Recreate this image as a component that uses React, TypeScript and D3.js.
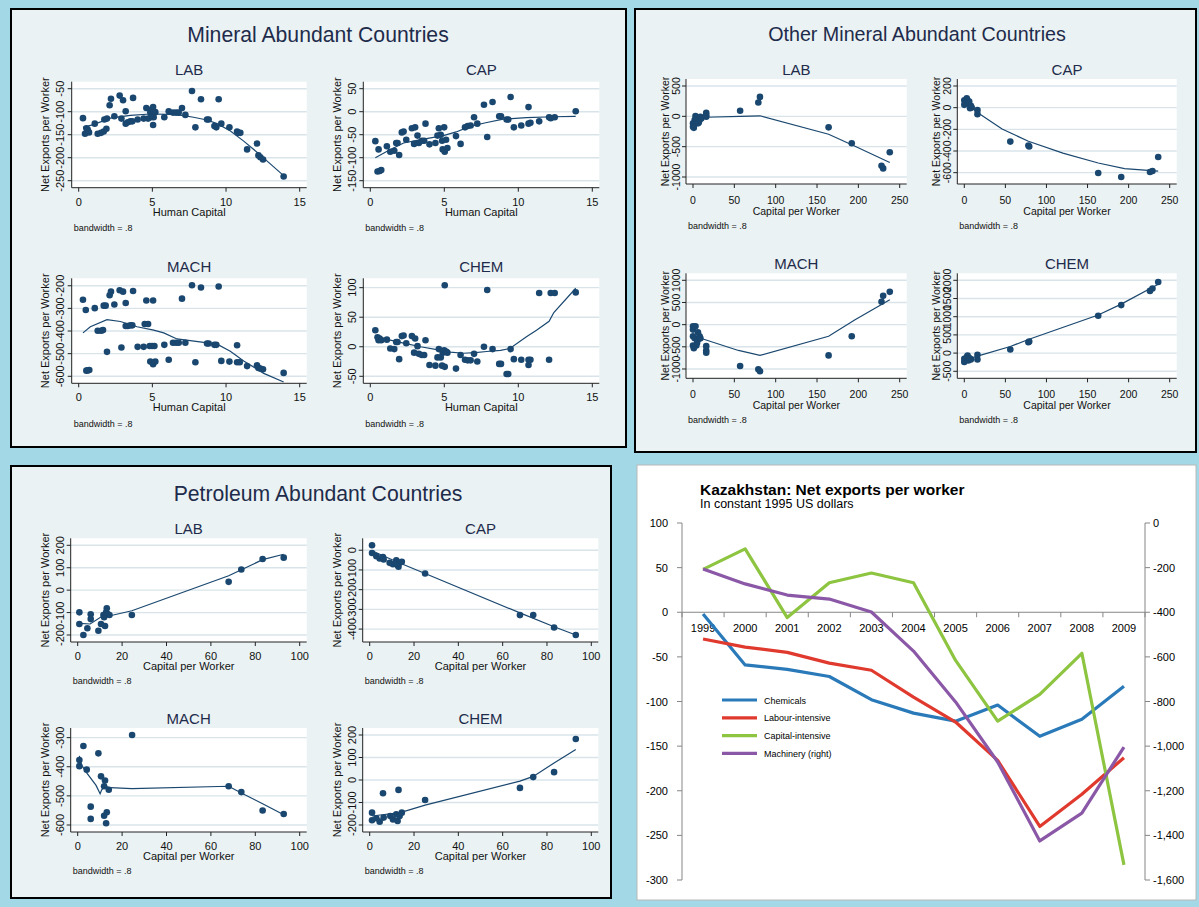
import React from 'react';
import * as d3 from 'd3';

type Pt = [number, number];

// ---------- Panel 1: Mineral Abundant Countries (x = Human Capital) ----------
const hcTicks = [0, 5, 10, 15];
const minLabTicks = [-250, -200, -150, -100, -50];
const minCapTicks = [-150, -100, -50, 0, 50];
const minMachTicks = [-600, -500, -400, -300, -200];
const minChemTicks = [-50, 0, 50, 100];

const minLab: Pt[] = [[0.29,-114],[0.43,-148],[0.52,-136],[0.61,-139],[0.70,-145],[1.09,-126],[1.29,-148],[1.52,-146],[1.70,-143],[1.74,-117],[1.88,-137],[1.92,-115],[2.10,-86],[2.19,-72],[2.42,-110],[2.78,-65],[2.90,-115],[3.01,-75],[3.19,-99],[3.19,-126],[3.33,-123],[3.51,-121],[3.64,-121],[3.69,-70],[4.00,-117],[4.41,-115],[4.59,-92],[4.71,-115],[4.86,-101],[4.98,-94],[5.05,-90],[4.91,-112],[5.09,-112],[5.05,-129],[5.20,-101],[5.81,-112],[6.11,-99],[6.40,-102],[6.61,-102],[6.79,-102],[7.01,-92],[7.24,-107],[7.69,-55],[7.92,-134],[8.30,-73],[8.71,-117],[8.82,-117],[9.21,-131],[9.34,-134],[9.50,-73],[9.68,-126],[10.23,-134],[10.75,-143],[10.81,-146],[10.97,-146],[11.43,-182],[12.10,-169],[12.20,-195],[12.33,-199],[12.51,-204],[13.91,-241]];
const minLabFit: Pt[] = [[0.29,-134],[1,-128],[2.15,-114],[3.5,-108],[4.86,-105],[6.2,-106],[7.0,-108],[7.8,-112],[8.7,-118],[9.4,-126],[10.3,-142],[11.2,-164],[12.1,-188],[12.56,-201],[13.91,-239]];

const minCap: Pt[] = [[0.34,-64],[0.49,-130],[0.56,-82],[0.63,-129],[0.74,-127],[1.12,-75],[1.35,-87],[1.62,-85],[1.75,-68],[1.84,-68],[1.95,-94],[2.13,-45],[2.25,-43],[2.43,-61],[2.81,-36],[2.96,-70],[3.03,-34],[3.19,-52],[3.28,-68],[3.48,-63],[3.64,-63],[3.73,-26],[4.00,-71],[4.40,-68],[4.54,-52],[4.63,-36],[4.76,-50],[4.85,-63],[4.89,-82],[4.99,-34],[5.03,-87],[5.12,-61],[5.21,-79],[5.79,-53],[6.10,-70],[6.40,-34],[6.58,-31],[6.78,-30],[7.01,-12],[7.23,-26],[7.68,15],[7.90,-55],[8.26,21],[8.71,-10],[8.83,-10],[9.21,-17],[9.32,-17],[9.48,32],[9.70,-34],[10.20,-30],[10.69,10],[10.69,-26],[10.82,-24],[11.41,-21],[12.08,-12],[12.19,-14],[12.46,-12],[13.88,1]];
const minCapFit: Pt[] = [[0.34,-100],[1.2,-85],[2.25,-68],[3.5,-60],[4.94,-52],[5.8,-44],[6.74,-32],[7.8,-24],[8.98,-16],[10.55,-13],[12.35,-11],[13.88,-10]];

const minMach: Pt[] = [[0.29,-262],[0.48,-307],[0.52,-575],[0.61,-574],[0.72,-572],[1.09,-299],[1.29,-399],[1.52,-399],[1.65,-396],[1.70,-288],[1.83,-288],[1.92,-492],[2.10,-242],[2.19,-226],[2.42,-283],[2.78,-220],[2.90,-473],[3.01,-226],[3.19,-276],[3.19,-378],[3.33,-378],[3.51,-375],[3.64,-375],[3.69,-223],[4.00,-470],[4.41,-470],[4.48,-369],[4.59,-265],[4.71,-369],[4.82,-466],[4.86,-535],[4.98,-466],[5.05,-265],[5.05,-547],[5.14,-466],[5.20,-535],[5.81,-461],[6.11,-527],[6.40,-452],[6.61,-452],[6.79,-452],[7.01,-257],[7.24,-452],[7.69,-198],[7.92,-538],[8.30,-208],[8.71,-455],[8.82,-455],[9.21,-461],[9.34,-461],[9.50,-203],[9.68,-532],[10.23,-535],[10.75,-463],[10.75,-538],[10.93,-538],[11.43,-555],[12.10,-551],[12.20,-563],[12.33,-566],[12.51,-569],[13.91,-585]];
const minMachFit: Pt[] = [[0.29,-408],[0.79,-381],[1.92,-350],[2.83,-358],[3.96,-381],[5.09,-396],[5.77,-408],[6.67,-435],[8.48,-450],[9.39,-458],[10.29,-489],[11.2,-532],[12.56,-587],[13.91,-625]];

const minChem: Pt[] = [[0.34,28],[0.49,16],[0.56,11],[0.63,14],[0.74,11],[1.12,12],[1.35,-3],[1.62,-4],[1.75,8],[1.84,8],[1.95,-21],[2.13,18],[2.25,19],[2.43,6],[2.81,18],[2.96,-10],[3.03,14],[3.19,1],[3.28,-12],[3.48,-14],[3.64,-14],[3.73,11],[4.00,-31],[4.40,-32],[4.54,-18],[4.63,-4],[4.76,-18],[4.85,-32],[4.89,-10],[4.99,-6],[5.03,-34],[5.03,104],[5.12,-8],[5.21,-10],[5.79,-37],[6.10,-14],[6.40,-22],[6.58,-23],[6.78,-23],[7.01,-12],[7.23,-25],[7.68,0],[7.90,96],[8.26,-4],[8.71,-29],[8.83,-29],[9.21,-46],[9.32,-46],[9.48,-4],[9.70,-21],[10.20,-22],[10.69,-22],[10.69,-31],[10.82,-22],[11.41,91],[12.08,-22],[12.19,91],[12.46,91],[13.88,92]];
const minChemFit: Pt[] = [[0.34,19],[1.2,12],[2.25,6],[3.4,0],[4.49,-5],[5.4,-9],[6.29,-11],[7.1,-10],[7.86,-8],[8.8,-6],[9.43,-3],[10.55,17],[11.23,28],[12.08,43],[12.4,58],[13.88,99]];

// ---------- Panel 2: Other Mineral Abundant Countries (x = Capital per Worker) ----------
const kTicks = [0, 50, 100, 150, 200, 250];
const omLabTicks = [-1000, -500, 0, 500];
const omCapTicks = [-600, -400, -200, 0, 200];
const omMachTicks = [-1000, -500, 0, 500, 1000];
const omChemTicks = [-500, 0, 500, 1000, 1500, 2000];

const omLab: Pt[] = [[0,-116],[0,-171],[1,-144],[1,-190],[2,-62],[3,4],[3,-80],[4,-35],[5,-89],[5,-20],[6,-116],[7,-100],[8,-62],[9,-7],[10,-35],[16,58],[16,20],[16,-7],[57,91],[79,227],[81,320],[164,-182],[192,-444],[228,-815],[230,-858],[238,-591]];
const omLabFit: Pt[] = [[0,-50],[5,-30],[16,-15],[57,0],[81,9],[164,-296],[194,-480],[238,-760]];

const omCap: Pt[] = [[0,69],[0,26],[1,50],[2,47],[3,87],[4,69],[5,38],[6,56],[7,-5],[8,17],[9,2],[16,-23],[16,-60],[56,-313],[78,-350],[79,-359],[163,-603],[191,-640],[226,-594],[229,-585],[236,-456]];
const omCapFit: Pt[] = [[0,38],[8,10],[16,-44],[46,-197],[78,-310],[120,-420],[163,-511],[195,-563],[236,-585]];

const omMach: Pt[] = [[0,-37],[0,-112],[0,-261],[0,-470],[1,-530],[2,-306],[3,-37],[4,-470],[5,-410],[6,-172],[7,-321],[8,-261],[9,-306],[16,-485],[16,-582],[16,-634],[57,-933],[79,-1007],[81,-1052],[164,-694],[192,-261],[228,515],[230,649],[238,739]];
const omMachFit: Pt[] = [[0,-261],[14,-336],[55,-582],[81,-694],[164,-261],[196,112],[238,560]];

const omChem: Pt[] = [[0,-245],[0,-155],[1,-200],[3,-109],[4,-64],[5,-200],[6,-136],[7,-155],[8,-173],[16,-45],[16,-173],[56,100],[78,300],[79,318],[163,1027],[191,1318],[226,1709],[229,1773],[236,1955]];
const omChemFit: Pt[] = [[0,-200],[16,-82],[56,182],[78,373],[163,1045],[191,1345],[236,1891]];

// ---------- Panel 3: Petroleum Abundant Countries (x = Capital per Worker) ----------
const pTicks = [0, 20, 40, 60, 80, 100];
const petLabTicks = [-200, -100, 0, 100, 200];
const petCapTicks = [-400, -300, -200, -100, 0];
const petMachTicks = [-600, -500, -400, -300];
const petChemTicks = [-200, -100, 0, 100, 200];

const petLab: Pt[] = [[0.75,-99],[0.75,-151],[2.56,-200],[4.36,-170],[5.86,-108],[5.86,-129],[9.32,-181],[10.5,-151],[11.6,-111],[11.9,-121],[12.3,-160],[12.8,-99],[13.1,-81],[13.5,-107],[14.3,-111],[24.4,-111],[68,37],[73.7,92],[83.3,139],[92.8,145]];
const petLabFit: Pt[] = [[0.75,-148],[5.6,-151],[10.8,-118],[14.6,-114],[24.4,-92],[68,64],[83.3,136],[92.8,160]];

const petCap: Pt[] = [[1.05,25],[1.05,-14],[3,-30],[4.5,-42],[6,-34],[6.3,-47],[9,-64],[10.5,-71],[12,-51],[12.6,-76],[13,-84],[13.5,-64],[14.5,-59],[25,-118],[67.8,-329],[73.8,-329],[83.2,-392],[93,-430]];
const petCapFit: Pt[] = [[1.05,-3],[6,-28],[13.8,-66],[25,-118],[67.8,-318],[83.2,-388],[93,-430]];

const petMach: Pt[] = [[0.75,-377],[0.75,-398],[2.56,-329],[4.06,-410],[5.86,-537],[5.86,-579],[9.32,-354],[10.5,-433],[11.9,-467],[11.9,-568],[12.3,-447],[12.8,-594],[13.1,-556],[14,-479],[24.5,-291],[68,-467],[73.7,-487],[83.3,-550],[92.8,-562]];
const petMachFit: Pt[] = [[0.75,-363],[1.8,-395],[4.06,-421],[8.27,-464],[10.1,-493],[10.8,-479],[12.3,-467],[14.6,-472],[24.4,-475],[68,-467],[73.7,-490],[83.3,-527],[92.8,-565]];

const petChem: Pt[] = [[1.05,-145],[1.05,-179],[3,-170],[4.5,-185],[6,-59],[6.3,-167],[9.3,-160],[10.5,-175],[12,-152],[12.6,-182],[13,-44],[13.5,-160],[14.5,-145],[25,-89],[67.8,-35],[73.8,13],[83.2,35],[93,182]];
const petChemFit: Pt[] = [[1.05,-160],[13.8,-145],[25,-112],[67.8,-5],[73.8,16],[83.2,76],[93,136]];

// ---------- Panel 4: Kazakhstan ----------
const years = ['1999','2000','2001','2002','2003','2004','2005','2006','2007','2008','2009'];
const chemicals = [-2,-59,-64,-72,-98,-113,-122,-104,-139,-120,-83];
const labour = [-30,-39,-45,-57,-65,-95,-123,-166,-240,-204,-163];
const capital = [48,71,-6,33,44,33,-54,-122,-92,-46,-283];
const machinery = [-206,-273,-323,-341,-399,-574,-802,-1071,-1425,-1300,-1004];
const leftTicks = [100,50,0,-50,-100,-150,-200,-250,-300];
const rightTicks = [0,-200,-400,-600,-800,-1000,-1200,-1400,-1600];
const kzSeries = [
  { name: 'Chemicals', values: chemicals, color: '#2a7ab9', right: false },
  { name: 'Labour-intensive', values: labour, color: '#e0392e', right: false },
  { name: 'Capital-intensive', values: capital, color: '#8dc440', right: false },
  { name: 'Machinery (right)', values: machinery, color: '#8a58a6', right: true },
];

const NAVY = '#1a476f';
const FONT = '"Liberation Sans", Arial, Helvetica, sans-serif';

type Style = { ytick: number; ytitle: number; xtickB: number; xtitleB: number; bwB: number; titleB: number; fs: number };

function Sub({ r, xt, yt, pts, fit, title, xTitle, s }: { r: number[]; xt: number[]; yt: number[]; pts: Pt[]; fit: Pt[]; title: string; xTitle: string; s: Style }) {
  const pad = 7;
  const xDom = d3.extent([...pts.map(p => p[0]), ...xt]) as [number, number];
  const yDom = d3.extent([...pts.map(p => p[1]), ...yt]) as [number, number];
  const x = d3.scaleLinear().domain(xDom).range([r[0] + pad, r[2] - pad]);
  const y = d3.scaleLinear().domain(yDom).range([r[3] - pad, r[1] + pad]);
  const line = d3.line<Pt>().x(d => x(d[0])).y(d => y(d[1]));
  const sorted = [...fit].sort((a, b) => a[0] - b[0]);
  const cx = (r[0] + r[2]) / 2;
  const cy = (r[1] + r[3]) / 2;
  return (
    <g>
      <rect x={r[0]} y={r[1]} width={r[2] - r[0]} height={r[3] - r[1]} fill="#ffffff" />
      {yt.map(t => (
        <line key={'g' + t} x1={r[0]} x2={r[2]} y1={y(t)} y2={y(t)} stroke="#d9e4ea" strokeWidth={1.4} />
      ))}
      {pts.map((p, i) => (
        <circle key={i} cx={x(p[0])} cy={y(p[1])} r={3.3} fill={NAVY} />
      ))}
      <path d={line(sorted) || ''} fill="none" stroke={NAVY} strokeWidth={1.2} />
      <line x1={r[0]} x2={r[0]} y1={r[1]} y2={r[3]} stroke="#222" strokeWidth={1} />
      <line x1={r[0]} x2={r[2]} y1={r[3]} y2={r[3]} stroke="#222" strokeWidth={1} />
      {yt.map(t => (
        <g key={'y' + t}>
          <line x1={r[0] - 4} x2={r[0]} y1={y(t)} y2={y(t)} stroke="#222" />
          <text transform={`translate(${r[0] - s.ytick + 4},${y(t)}) rotate(-90)`} textAnchor="middle" fontSize={s.fs} fill="#111">{String(t)}</text>
        </g>
      ))}
      {xt.map(t => (
        <g key={'x' + t}>
          <line x1={x(t)} x2={x(t)} y1={r[3]} y2={r[3] + 4} stroke="#222" />
          <text x={x(t)} y={r[3] + s.xtickB} textAnchor="middle" fontSize={s.fs} fill="#111">{String(t)}</text>
        </g>
      ))}
      <text transform={`translate(${r[0] - s.ytitle + 4},${cy}) rotate(-90)`} textAnchor="middle" fontSize={s.fs} fill="#111">Net Exports per Worker</text>
      <text x={cx} y={r[3] + s.xtitleB} textAnchor="middle" fontSize={s.fs} fill="#111">{xTitle}</text>
      <text x={r[0] + 2} y={r[3] + s.bwB} fontSize={9} fill="#111">bandwidth = .8</text>
      <text x={cx} y={r[1] - s.titleB} textAnchor="middle" fontSize={15} fill="#1e2b4b">{title}</text>
    </g>
  );
}

const s1: Style = { ytick: 11.5, ytitle: 26.5, xtickB: 18, xtitleB: 28, bwB: 43.5, titleB: 6.5, fs: 11 };
const s2: Style = { ytick: 10, ytitle: 21.5, xtickB: 19.5, xtitleB: 30.5, bwB: 44.5, titleB: 4.5, fs: 10.5 };
const s3: Style = { ytick: 11, ytitle: 26, xtickB: 18, xtitleB: 28, bwB: 41.5, titleB: 4.5, fs: 11 };

function Kazakhstan() {
  const x = d3.scaleBand<string>().domain(years).range([682, 1145]).padding(0);
  const yL = d3.scaleLinear().domain([-300, 100]).range([880, 523]);
  const yR = d3.scaleLinear().domain([-1600, 0]).range([880, 523]);
  const cxOf = (yr: string) => (x(yr) as number) + x.bandwidth() / 2;
  const fmt = (v: number) => v.toLocaleString('en-US');
  return (
    <g>
      <rect x={637} y={465} width={559} height={435} fill="#ffffff" stroke="#b8b8b8" strokeWidth={1} />
      <text x={700} y={495} fontSize={15.5} fontWeight="bold" fill="#000">Kazakhstan: Net exports per worker</text>
      <text x={700} y={508} fontSize={12.5} fill="#000">In constant 1995 US dollars</text>
      {/* left axis */}
      <line x1={682} x2={682} y1={yL(100)} y2={yL(-300)} stroke="#868686" />
      {leftTicks.map(t => (
        <g key={'l' + t}>
          <line x1={677} x2={682} y1={yL(t)} y2={yL(t)} stroke="#868686" />
          <text x={668} y={yL(t) + 4} textAnchor="end" fontSize={11} fill="#000">{fmt(t)}</text>
        </g>
      ))}
      {/* right axis */}
      <line x1={1145} x2={1145} y1={yR(0)} y2={yR(-1600)} stroke="#868686" />
      {rightTicks.map(t => (
        <g key={'r' + t}>
          <line x1={1145} x2={1150} y1={yR(t)} y2={yR(t)} stroke="#868686" />
          <text x={1153} y={yR(t) + 4} textAnchor="start" fontSize={11} fill="#000">{fmt(t)}</text>
        </g>
      ))}
      {/* category axis at zero */}
      <line x1={682} x2={1145} y1={yL(0)} y2={yL(0)} stroke="#868686" />
      {years.map(yr => (
        <g key={yr}>
          <line x1={x(yr) as number} x2={x(yr) as number} y1={yL(0)} y2={yL(0) + 5} stroke="#868686" />
          <text x={cxOf(yr)} y={yL(0) + 20} textAnchor="middle" fontSize={11} fill="#000">{yr}</text>
        </g>
      ))}
      <line x1={1145} x2={1145} y1={yL(0)} y2={yL(0) + 5} stroke="#868686" />
      {kzSeries.map(se => {
        const sc = se.right ? yR : yL;
        const ln = d3.line<number>().x((_, i) => cxOf(years[i])).y(v => sc(v));
        return <path key={se.name} d={ln(se.values) || ''} fill="none" stroke={se.color} strokeWidth={3.2} strokeLinejoin="round" />;
      })}
      {kzSeries.map((se, i) => (
        <g key={'lg' + se.name}>
          <line x1={722} x2={757} y1={700 + i * 17.8} y2={700 + i * 17.8} stroke={se.color} strokeWidth={3.2} />
          <text x={764} y={703.5 + i * 17.8} fontSize={9} fill="#000">{se.name}</text>
        </g>
      ))}
    </g>
  );
}

export default function App() {
  return (
    <svg width={1199} height={907} style={{ position: 'absolute', left: 0, top: 0, display: 'block' }} fontFamily={FONT}>
      <rect x={0} y={0} width={1199} height={907} fill="#a3d9e6" />
      {/* Panel 1 */}
      <rect x={11} y={9} width={615} height={438} fill="#eaf2f3" stroke="#000" strokeWidth={2} />
      <text x={318} y={42} textAnchor="middle" fontSize={21.2} fill="#1e2b4b">Mineral Abundant Countries</text>
      <Sub r={[71.7, 81.7, 306.7, 187.7]} xt={hcTicks} yt={minLabTicks} pts={minLab} fit={minLabFit} title="LAB" xTitle="Human Capital" s={s1} />
      <Sub r={[363.3, 81.7, 599.3, 187.7]} xt={hcTicks} yt={minCapTicks} pts={minCap} fit={minCapFit} title="CAP" xTitle="Human Capital" s={s1} />
      <Sub r={[71.7, 278.3, 306.7, 383.3]} xt={hcTicks} yt={minMachTicks} pts={minMach} fit={minMachFit} title="MACH" xTitle="Human Capital" s={s1} />
      <Sub r={[363.3, 278.3, 599.3, 383.3]} xt={hcTicks} yt={minChemTicks} pts={minChem} fit={minChemFit} title="CHEM" xTitle="Human Capital" s={s1} />
      {/* Panel 2 */}
      <rect x={635} y={9} width={561} height={443} fill="#eaf2f3" stroke="#000" strokeWidth={2} />
      <text x={917} y={41} textAnchor="middle" fontSize={19.7} fill="#1e2b4b">Other Mineral Abundant Countries</text>
      <Sub r={[686, 79, 906.7, 184]} xt={kTicks} yt={omLabTicks} pts={omLab} fit={omLabFit} title="LAB" xTitle="Capital per Worker" s={s2} />
      <Sub r={[957.3, 79, 1176.7, 184]} xt={kTicks} yt={omCapTicks} pts={omCap} fit={omCapFit} title="CAP" xTitle="Capital per Worker" s={s2} />
      <Sub r={[686, 273.3, 906.7, 378.3]} xt={kTicks} yt={omMachTicks} pts={omMach} fit={omMachFit} title="MACH" xTitle="Capital per Worker" s={s2} />
      <Sub r={[957.3, 273.3, 1176.7, 378.3]} xt={kTicks} yt={omChemTicks} pts={omChem} fit={omChemFit} title="CHEM" xTitle="Capital per Worker" s={s2} />
      {/* Panel 3 */}
      <rect x={11} y={466} width={600} height={432} fill="#eaf2f3" stroke="#000" strokeWidth={2} />
      <text x={318} y={501} textAnchor="middle" fontSize={21.2} fill="#1e2b4b">Petroleum Abundant Countries</text>
      <Sub r={[70.7, 538.3, 306.7, 642]} xt={pTicks} yt={petLabTicks} pts={petLab} fit={petLabFit} title="LAB" xTitle="Capital per Worker" s={s3} />
      <Sub r={[362.7, 538.3, 598.3, 642]} xt={pTicks} yt={petCapTicks} pts={petCap} fit={petCapFit} title="CAP" xTitle="Capital per Worker" s={s3} />
      <Sub r={[70.7, 728, 306.7, 832]} xt={pTicks} yt={petMachTicks} pts={petMach} fit={petMachFit} title="MACH" xTitle="Capital per Worker" s={s3} />
      <Sub r={[362.7, 728, 598.3, 832]} xt={pTicks} yt={petChemTicks} pts={petChem} fit={petChemFit} title="CHEM" xTitle="Capital per Worker" s={s3} />
      {/* Panel 4 */}
      <Kazakhstan />
    </svg>
  );
}
